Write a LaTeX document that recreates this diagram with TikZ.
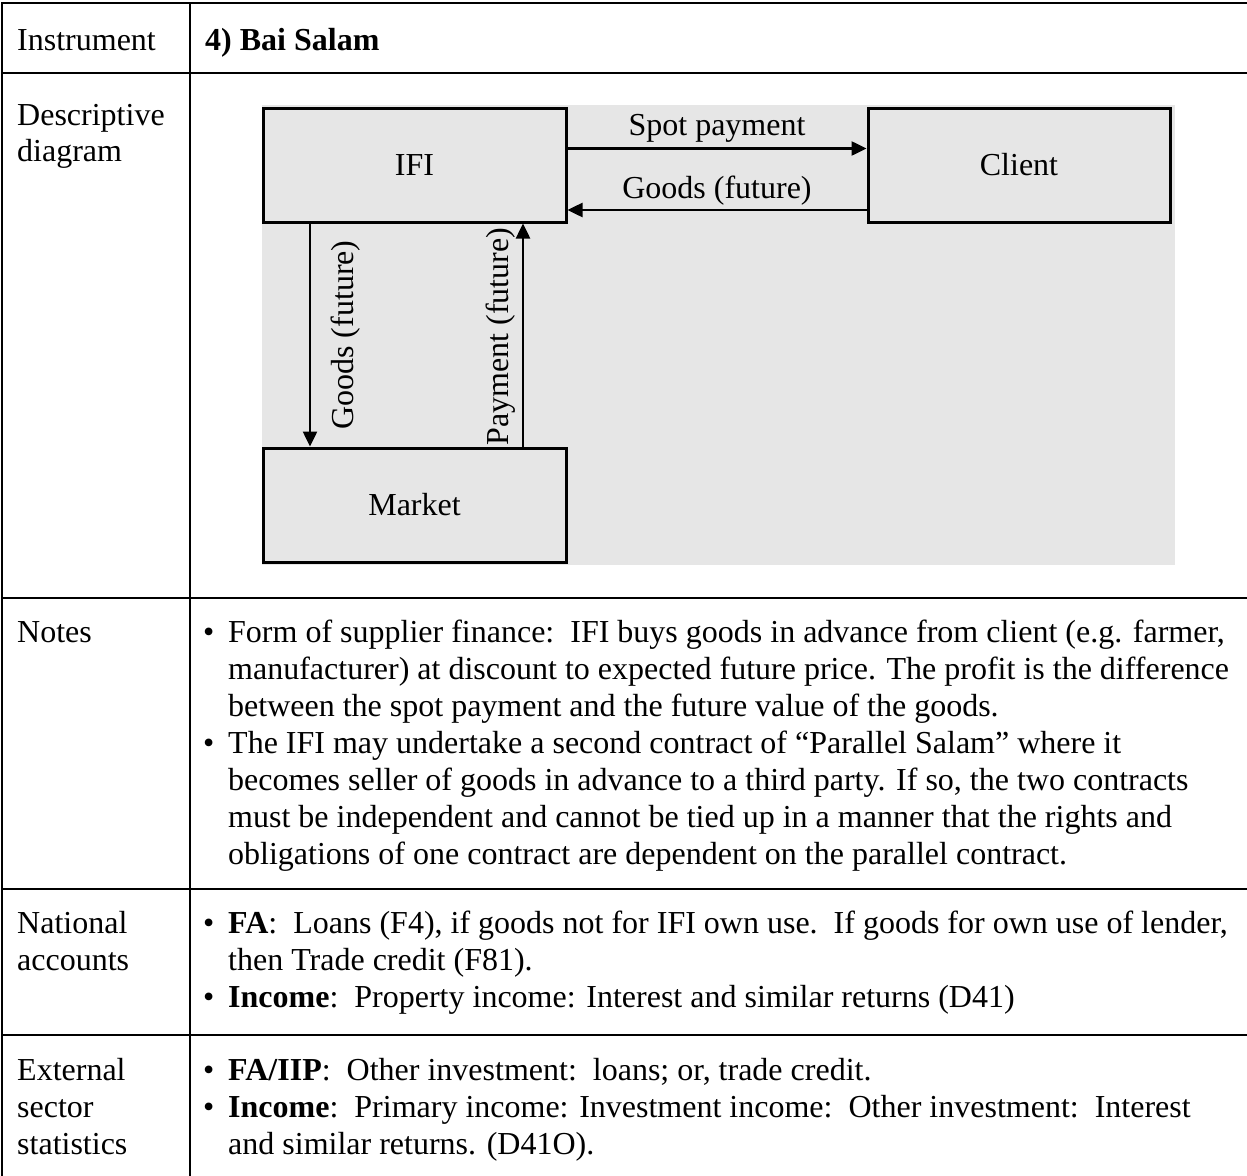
\documentclass[tikz,border=0pt]{standalone}
\usepackage{fontspec}
\setmainfont{Liberation Serif}
\usetikzlibrary{arrows.meta}
\definecolor{diagray}{RGB}{230,230,230}
\newcommand\fs{\fontsize{32}{37}\selectfont}
\begin{document}
\begin{tikzpicture}[x=1pt,y=-1pt,
  rule/.style={line width=2.7pt},
  box/.style={draw, line width=3pt, fill=diagray, minimum width=303pt, minimum height=114pt, inner sep=0pt, font=\fs},
  flow/.style={line width=2.5pt, -{Triangle[length=15pt,width=14pt]}},
  txt/.style={anchor=base west, inner sep=0pt, font=\fs},
  lbl/.style={anchor=base, inner sep=0pt, font=\fs}]
\useasboundingbox (0,0) rectangle (1247,1175);
\clip (0,0) rectangle (1247,1175);
% table rules
\draw[rule] (1260,3) -- (2,3) -- (2,1190);
\draw[rule] (190,3) -- (190,1190);
\draw[rule] (2,73) -- (1260,73);
\draw[rule] (2,598) -- (1260,598);
\draw[rule] (2,889) -- (1260,889);
\draw[rule] (2,1035) -- (1260,1035);
% left column
\node[txt] (t1) at (17,50) {Instrument};
\node[txt] (t2) at (205,50) {\bfseries 4) Bai Salam};
\node[txt] (t3) at (17,125) {Descriptive};
\node[txt] (t4) at (17,161) {diagram};
\node[txt] (t5) at (17,642) {Notes};
\node[txt] (t6) at (17,933) {National};
\node[txt] (t7) at (17,970) {accounts};
\node[txt] (t8) at (17,1080) {External};
\node[txt] (t9) at (17,1117) {sector};
\node[txt] (t10) at (17,1154) {statistics};
% diagram
\fill[diagray] (262,105) rectangle (1175,565);
\node[box] (ifi) at (414.5,165) {IFI};
\node[box, minimum width=302pt] (client) at (1019,165) {Client};
\node[box] (market) at (414.5,505) {Market};
\draw[flow] ([yshift=-42pt]ifi.north east) -- node[midway, lbl, yshift=13pt] (sp) {Spot payment} ([yshift=-42pt]client.north west);
\draw[flow] ([yshift=13.5pt]client.south west) -- node[midway, lbl, yshift=12pt] (gf) {Goods (future)} ([yshift=13.5pt]ifi.south east);
\draw[flow] ([xshift=48.5pt]ifi.south west) -- ([xshift=48.5pt]market.north west);
\draw[flow] ([xshift=-44.5pt]market.north east) -- ([xshift=-44.5pt]ifi.south east);
\node[lbl, rotate=90] (gl) at (353,335) {Goods (future)};
\node[lbl, rotate=90] (pl) at (508,336.5) {Payment (future)};
% notes
\node[txt] (b1) at (203,642) {•};
\node[txt] (n1) at (228,642) {Form of supplier finance:\ \ IFI buys goods in advance from client (e.g. farmer,};
\node[txt] (n2) at (228,679) {manufacturer) at discount to expected future price. The profit is the difference};
\node[txt] (n3) at (228,716) {between the spot payment and the future value of the goods.};
\node[txt] (b2) at (203,753) {•};
\node[txt] (n4) at (228,753) {The IFI may undertake a second contract of “Parallel Salam” where it};
\node[txt] (n5) at (228,790) {becomes seller of goods in advance to a third party. If so, the two contracts};
\node[txt] (n6) at (228,827) {must be independent and cannot be tied up in a manner that the rights and};
\node[txt] (n7) at (228,864) {obligations of one contract are dependent on the parallel contract.};
% national accounts
\node[txt] (b3) at (203,933) {•};
\node[txt] (a1) at (228,933) {\textbf{FA}:\ \ Loans (F4), if goods not for IFI own use.\ \ If goods for own use of lender,};
\node[txt] (a2) at (228,970) {then Trade credit (F81).};
\node[txt] (b4) at (203,1007) {•};
\node[txt] (a3) at (228,1007) {\textbf{Income}:\ \ Property income: Interest and similar returns (D41)};
% external sector
\node[txt] (b5) at (203,1080) {•};
\node[txt] (e1) at (228,1080) {\textbf{FA/IIP}:\ \ Other investment:\ \ loans; or, trade credit.};
\node[txt] (b6) at (203,1117) {•};
\node[txt] (e2) at (228,1117) {\textbf{Income}:\ \ Primary income: Investment income:\ \ Other investment:\ \ Interest};
\node[txt] (e3) at (228,1154) {and similar returns. (D41O).};
\end{tikzpicture}
\end{document}
